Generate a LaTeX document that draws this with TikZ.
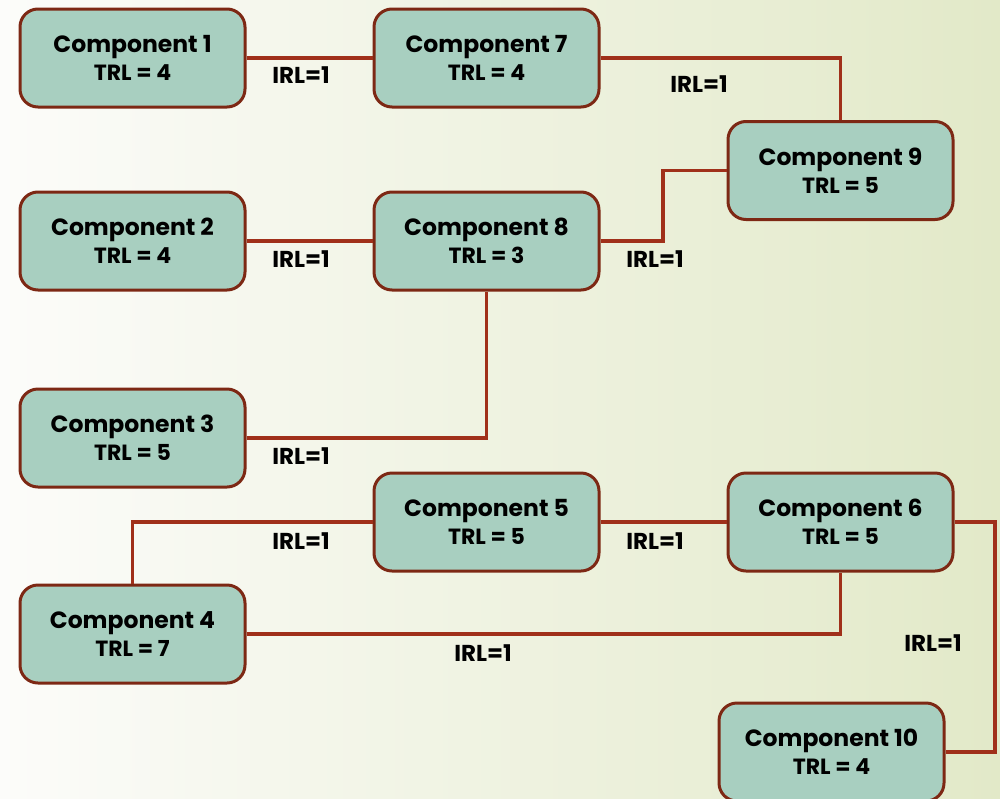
\documentclass[tikz,border=0pt]{standalone}
\usepackage{fontspec}
\setmainfont{Poppins}
\definecolor{boxfill}{RGB}{168,207,192}
\definecolor{boxedge}{RGB}{125,40,20}
\definecolor{wire}{RGB}{160,48,26}
\definecolor{bgright}{RGB}{226,233,200}
\definecolor{bgleft}{RGB}{252,252,250}
\newcommand{\comptxt}[2]{Component #1\\{\fontsize{22pt}{28pt}\selectfont TRL = #2}}
\tikzset{
  comp/.style={draw=boxedge, line width=3pt, fill=boxfill, rounded corners=18pt,
    minimum width=225pt, minimum height=98pt, inner sep=0pt, align=center,
    font=\fontsize{23.5pt}{28pt}\selectfont\bfseries},
  wirestyle/.style={draw=wire, line width=3.2pt},
  irl/.style={font=\fontsize{23pt}{26pt}\selectfont\bfseries, inner sep=0pt}
}
\begin{document}
\begin{tikzpicture}[x=1pt,y=-1pt]
\shade[left color=bgleft, right color=bgright] (0,0) rectangle (1000,798);
\useasboundingbox (0,0) rectangle (1000,798);
\coordinate (w89) at (663,200);
\coordinate (w610) at (995,600);
\node[comp] (c1) at (132.5,58) {\comptxt{1}{4}};
\node[comp] (c7) at (486.5,58) {\comptxt{7}{4}};
\node[comp] (c9) at (840.5,170.5) {\comptxt{9}{5}};
\node[comp] (c2) at (132.5,241) {\comptxt{2}{4}};
\node[comp] (c8) at (486.5,241) {\comptxt{8}{3}};
\node[comp] (c3) at (132.5,438) {\comptxt{3}{5}};
\node[comp] (c5) at (486.5,522) {\comptxt{5}{5}};
\node[comp] (c6) at (840.5,522) {\comptxt{6}{5}};
\node[comp] (c4) at (132.5,634) {\comptxt{4}{7}};
\node[comp] (c10) at (831.5,752) {\comptxt{10}{4}};
\draw[wirestyle] (c1.east) -- (c7.west);
\draw[wirestyle] (c7.east) -| (c9.north);
\draw[wirestyle] (c8.east) -| (w89) |- (c9.west);
\draw[wirestyle] (c2.east) -- (c8.west);
\draw[wirestyle] (c3.east) -| (c8.south);
\draw[wirestyle] (c4.north) |- (c5.west);
\draw[wirestyle] (c5.east) -- (c6.west);
\draw[wirestyle] (c4.east) -| (c6.south);
\draw[wirestyle] (c6.east) -| (w610) |- (c10.east);
\node[irl] (l17) at (301,75) {IRL=1};
\node[irl] (l79) at (699,84) {IRL=1};
\node[irl] (l89) at (655,259) {IRL=1};
\node[irl] (l28) at (301,259) {IRL=1};
\node[irl] (l38) at (301,456) {IRL=1};
\node[irl] (l45) at (301,541) {IRL=1};
\node[irl] (l56) at (655,541) {IRL=1};
\node[irl] (l46) at (483,653) {IRL=1};
\node[irl] (l610) at (933,643) {IRL=1};
\end{tikzpicture}
\end{document}
